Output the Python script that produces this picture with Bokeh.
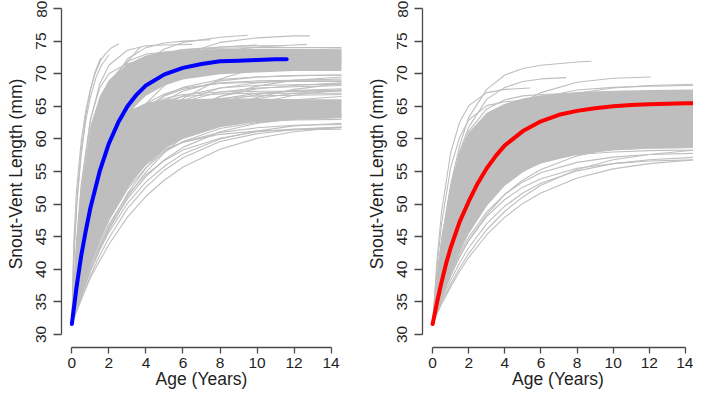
from bokeh.plotting import figure
from bokeh.layouts import row
from bokeh.models import Range1d, FixedTicker
from bokeh.embed import file_html
from bokeh.resources import INLINE

# ---------------- data ----------------
X_TICKS = [0, 2, 4, 6, 8, 10, 12, 14]
Y_TICKS = [30, 35, 40, 45, 50, 55, 60, 65, 70, 75, 80]
X_LABEL = "Age (Years)"
Y_LABEL = "Snout-Vent Length (mm)"

AGES = [0, 0.25, 0.5, 1, 1.5, 2, 3, 4, 5, 6, 8, 10, 12, 14.6]

# ---- left panel (blue mean) ----
BLUE_AGES = [0, 0.25, 0.5, 0.75, 1, 1.5, 2, 2.5, 3, 3.5, 4, 5, 6, 7, 8, 9, 10, 11, 11.6]
BLUE_SVL = [31.6, 37.2, 42.0, 45.9, 49.4, 55.0, 59.3, 62.5, 65.0, 66.8, 68.2, 69.9, 70.9,
            71.5, 71.9, 72.0, 72.1, 72.2, 72.2]

# dense cores of the individual curves (upper and lower cluster)
LEFT_UPPER_HI = [31.6, 44.5, 52.0, 62.0, 66.5, 69.0, 71.5, 72.8, 73.4, 73.6, 73.8, 73.8, 73.8, 73.7]
LEFT_UPPER_LO = [31.6, 37.0, 42.0, 49.5, 55.0, 58.8, 63.8, 66.6, 68.2, 69.1, 69.9, 70.2, 70.4, 70.4]
LEFT_LOWER_HI = [31.6, 38.5, 45.0, 53.0, 58.0, 61.3, 64.2, 65.5, 66.0, 66.1, 66.2, 66.2, 66.1, 66.1]
LEFT_LOWER_LO = [31.6, 34.0, 36.5, 41.0, 44.5, 47.5, 52.5, 56.0, 58.5, 60.0, 61.8, 62.6, 63.0, 63.2]

LEFT_CURVES = [
    [31.6, 44.2, 52.9, 63.0, 67.8, 70.0, 71.6, 71.9, 72.0, 72.0, 72.0, 72.0, 72.0, 72.0],
    [31.6, 41.7, 49.3, 59.5, 65.5, 68.8, 71.9, 73.0, 73.3, 73.4, 73.5, 73.5, 73.5, 73.5],
    [31.6, 39.3, 45.6, 55.0, 61.2, 65.4, 70.1, 72.3, 73.2, 73.7, 73.9, 74.0, 74.0, 74.0],
    [31.6, 40.7, 47.9, 57.8, 63.8, 67.4, 70.9, 72.2, 72.7, 72.9, 73.0, 73.0, 73.0, 73.0],
    [31.6, 35.6, 39.3, 45.6, 50.7, 54.9, 61.2, 65.4, 68.2, 70.1, 72.2, 73.1, 73.6, 73.8],
    [31.6, 39.8, 46.4, 55.9, 61.9, 65.8, 69.8, 71.4, 72.0, 72.3, 72.5, 72.5, 72.5, 72.5],
    [31.6, 34.6, 37.4, 42.3, 46.6, 50.3, 56.2, 60.5, 63.8, 66.2, 69.2, 70.9, 71.9, 72.5],
    [31.6, 33.9, 36.1, 40.0, 43.5, 46.5, 51.6, 55.5, 58.6, 61.0, 64.4, 66.4, 67.6, 68.5],
    [31.6, 35.5, 39.0, 44.8, 49.6, 53.3, 58.7, 62.2, 64.4, 65.7, 67.2, 67.8, 68.0, 68.2],
    [31.6, 37.3, 42.1, 49.6, 54.8, 58.5, 62.9, 65.1, 66.2, 66.8, 67.2, 67.3, 67.3, 67.3],
    [31.6, 36.1, 40.0, 46.6, 51.8, 55.7, 61.3, 64.6, 66.7, 67.9, 69.1, 69.5, 69.7, 69.8],
    [31.6, 34.7, 37.6, 42.6, 46.8, 50.3, 55.8, 59.6, 62.3, 64.3, 66.5, 67.7, 68.2, 68.6],
    [31.6, 34.1, 36.5, 40.8, 44.4, 47.6, 52.6, 56.3, 59.1, 61.2, 63.8, 65.2, 66.0, 66.5],
    [31.6, 35.8, 39.4, 45.4, 50.2, 53.8, 58.9, 62.0, 63.9, 65.0, 66.2, 66.6, 66.7, 66.8],
    [31.6, 35.0, 38.1, 43.5, 47.8, 51.4, 56.8, 60.3, 62.7, 64.3, 66.1, 67.0, 67.3, 67.5],
    [31.6, 34.2, 36.7, 41.0, 44.8, 48.0, 53.2, 57.0, 59.9, 62.0, 64.7, 66.2, 67.0, 67.5],
    [31.6, 36.4, 40.6, 47.4, 52.6, 56.5, 61.8, 64.8, 66.6, 67.6, 68.6, 68.9, 69.0, 69.0],
    [31.6, 34.4, 36.9, 41.5, 45.5, 48.9, 54.4, 58.4, 61.4, 63.7, 66.5, 68.1, 69.0, 69.5],
    [31.6, 37.3, 42.0, 49.4, 54.6, 58.3, 62.7, 64.8, 65.9, 66.5, 66.9, 67.0, 67.0, 67.0],
    [31.6, 33.8, 35.9, 39.8, 43.2, 46.1, 51.1, 54.9, 57.9, 60.3, 63.5, 65.5, 66.7, 67.5],
    [31.6, 35.2, 38.4, 44.0, 48.6, 52.4, 57.9, 61.7, 64.2, 65.9, 67.8, 68.6, 69.0, 69.2],
    [31.6, 36.8, 41.2, 48.4, 53.7, 57.6, 62.7, 65.4, 66.9, 67.8, 68.5, 68.7, 68.8, 68.8],
    [31.6, 35.7, 39.3, 45.5, 50.4, 54.3, 60.0, 63.6, 65.9, 67.3, 68.9, 69.5, 69.7, 69.8],
    [31.6, 34.6, 37.4, 42.3, 46.4, 49.9, 55.2, 58.9, 61.6, 63.5, 65.7, 66.8, 67.4, 67.7],
    [31.6, 35.9, 39.7, 46.1, 51.0, 54.9, 60.2, 63.4, 65.4, 66.6, 67.8, 68.2, 68.3, 68.4],
    [31.6, 33.5, 35.4, 39.0, 42.1, 44.8, 49.3, 52.6, 55.2, 57.1, 59.6, 60.8, 61.4, 61.8],
    [31.6, 33.8, 35.9, 39.7, 42.9, 45.7, 50.1, 53.4, 55.8, 57.7, 60.0, 61.2, 62.0, 62.4],
    [31.6, 34.5, 37.2, 41.7, 45.4, 48.5, 53.1, 56.1, 58.2, 59.5, 61.0, 61.7, 62.1, 62.2],
    [31.6, 34.3, 36.7, 41.0, 44.6, 47.6, 52.3, 55.6, 58.0, 59.6, 61.6, 62.5, 63.0, 63.3],
    [31.6, 34.8, 37.6, 42.4, 46.3, 49.3, 53.8, 56.6, 58.4, 59.5, 60.7, 61.2, 61.4, 61.5],
    [31.6, 33.9, 36.1, 40.0, 43.3, 46.2, 50.8, 54.2, 56.8, 58.7, 61.1, 62.4, 63.1, 63.6],
    [31.6, 34.2, 36.5, 40.6, 44.0, 46.9, 51.4, 54.5, 56.7, 58.3, 60.1, 61.1, 61.5, 61.8],
    [31.6, 34.9, 37.9, 43.0, 47.0, 50.2, 54.9, 57.8, 59.7, 60.9, 62.2, 62.7, 62.9, 63.0],
    [31.6, 33.5, 35.3, 38.7, 41.3, 43.8, 48.0, 51.2, 53.7, 55.7, 58.4, 60.1, 61.1, 61.8],
]

# curves that stop before the last age
LEFT_SHORT_AGES = [
    [0, 0.1, 0.25, 0.5, 0.75, 1, 1.25, 1.55, 1.8, 2.1, 2.54],
    [0, 0.15, 0.3, 0.5, 0.75, 1, 1.25, 1.55],
    [0, 0.1, 0.25, 0.5, 0.75, 1, 1.3, 1.6, 2.0],
    [0, 0.25, 0.5, 1, 1.5, 2, 3, 3.7],
    [0, 0.25, 0.5, 1, 1.5, 2, 3, 4, 5, 6.5],
    [0, 0.25, 0.5, 1, 1.5, 2, 3, 4, 5, 6, 8, 9.5],
    [0, 0.25, 0.5, 1, 1.5, 2, 3, 4, 5, 6, 8, 10, 12, 12.85],
    [0, 0.25, 0.5, 1, 1.5, 2, 3, 4, 5, 6, 8, 10],
    [0, 0.25, 0.5, 1, 1.5, 2, 3, 4, 5, 6, 8, 10, 11.5],
    [0, 0.25, 0.5, 1, 1.5, 2, 3, 4, 5, 6, 7.5],
    [0, 0.25, 0.5, 1, 1.5, 2, 3, 4, 5, 6, 8, 10, 12, 12.7],
]
LEFT_SHORT_SVL = [
    [31.6, 44.0, 52.0, 59.5, 64.3, 67.6, 70.0, 72.0, 73.0, 73.9, 74.6],
    [31.6, 44.0, 51.5, 58.0, 63.6, 67.5, 70.2, 72.4],
    [31.6, 42.0, 49.5, 57.5, 62.8, 66.4, 69.4, 71.3, 72.9],
    [31.6, 39.0, 45.3, 54.6, 61.3, 66.1, 71.8, 74.1],
    [31.6, 43.5, 52.1, 62.8, 68.4, 71.3, 73.6, 74.3, 74.4, 74.5],
    [31.6, 37.8, 43.1, 51.6, 57.9, 62.6, 68.7, 72.0, 73.8, 74.8, 75.6, 75.9],
    [31.6, 36.3, 40.5, 47.7, 53.4, 57.9, 64.5, 68.7, 71.3, 73.0, 74.8, 75.5, 75.8, 75.8],
    [31.6, 37.1, 41.9, 49.8, 55.8, 60.3, 66.3, 69.8, 71.8, 73.0, 74.1, 74.4],
    [31.6, 38.5, 44.2, 53.1, 59.4, 63.8, 69.1, 71.7, 73.0, 73.7, 74.1, 74.3, 74.3],
    [31.6, 40.4, 47.4, 57.5, 63.9, 68.0, 72.3, 74.0, 74.7, 75.0, 75.2],
    [31.6, 36.2, 40.2, 47.2, 52.7, 57.1, 63.5, 67.5, 70.1, 71.7, 73.4, 74.1, 74.4, 74.5],
]

# ---- right panel (red mean) ----
RED_AGES = [0, 0.25, 0.5, 0.75, 1, 1.5, 2, 2.5, 3, 3.5, 4, 5, 6, 7, 8, 9, 10, 11, 12, 13, 14, 14.6]
RED_SVL = [31.6, 35.0, 38.1, 40.9, 43.3, 47.3, 50.4, 53.2, 55.5, 57.4, 59.0, 61.2, 62.7, 63.7,
           64.3, 64.7, 65.0, 65.2, 65.3, 65.4, 65.45, 65.5]

RIGHT_CORE_HI = [31.6, 39.5, 45.0, 53.0, 58.0, 61.0, 64.0, 65.4, 66.2, 66.7, 67.2, 67.4, 67.5, 67.6]
RIGHT_CORE_LO = [31.6, 33.5, 35.6, 39.3, 42.6, 45.4, 49.7, 52.8, 54.9, 56.3, 57.7, 58.3, 58.5, 58.6]

RIGHT_CURVES = [
    [31.6, 40.5, 47.1, 55.6, 60.3, 62.9, 65.1, 65.7, 65.9, 66.0, 66.0, 66.0, 66.0, 66.0],
    [31.6, 38.7, 44.4, 52.6, 57.8, 61.2, 64.6, 66.0, 66.6, 66.8, 67.0, 67.0, 67.0, 67.0],
    [31.6, 35.1, 38.3, 43.8, 48.2, 51.9, 57.4, 61.0, 63.5, 65.1, 67.0, 67.8, 68.2, 68.4],
    [31.6, 35.9, 39.7, 46.0, 50.9, 54.7, 60.0, 63.3, 65.2, 66.4, 67.5, 67.9, 68.1, 68.2],
    [31.6, 33.2, 34.7, 37.3, 39.7, 41.8, 45.3, 48.0, 50.1, 51.7, 54.0, 55.4, 56.2, 56.8],
    [31.6, 33.5, 35.2, 38.3, 41.0, 43.3, 47.0, 49.7, 51.7, 53.2, 55.1, 56.2, 56.8, 57.2],
    [31.6, 33.8, 35.9, 39.4, 42.4, 44.9, 48.8, 51.5, 53.4, 54.8, 56.4, 57.2, 57.6, 57.8],
    [31.6, 34.4, 37.0, 41.3, 44.7, 47.4, 51.4, 53.9, 55.5, 56.5, 57.6, 58.0, 58.2, 58.3],
    [31.6, 33.3, 34.8, 37.7, 40.2, 42.4, 46.1, 48.9, 51.1, 52.9, 55.3, 56.8, 57.6, 58.3],
    [31.6, 33.6, 35.5, 39.0, 41.9, 44.4, 48.4, 51.5, 53.7, 55.3, 57.4, 58.6, 59.2, 59.6],
    [31.6, 34.2, 36.5, 40.6, 43.9, 46.6, 50.6, 53.3, 55.1, 56.3, 57.7, 58.3, 58.6, 58.7],
    [31.6, 33.7, 35.7, 39.1, 42.0, 44.4, 48.1, 50.7, 52.6, 53.9, 55.5, 56.2, 56.6, 56.8],
]

RIGHT_SHORT_AGES = [
    [0, 0.25, 0.5, 1, 1.5, 2, 3, 4, 5, 6, 8, 8.8],
    [0, 0.25, 0.5, 1, 1.5, 2, 3, 4, 5.4],
    [0, 0.25, 0.5, 1, 1.5, 2, 3, 4, 5, 6, 7.4],
    [0, 0.25, 0.5, 1, 1.5, 2, 3, 4, 5, 6, 8, 10, 12.1],
]
RIGHT_SHORT_SVL = [
    [31.6, 38.5, 44.5, 53.0, 59.0, 63.3, 67.6, 69.8, 70.8, 71.3, 71.8, 71.9],
    [31.6, 41.6, 48.9, 57.9, 62.6, 65.1, 67.1, 67.6, 67.8],
    [31.6, 38.5, 44.1, 52.5, 58.1, 61.8, 66.1, 67.9, 68.8, 69.2, 69.4],
    [31.6, 35.6, 39.3, 45.4, 50.3, 54.2, 59.8, 63.4, 65.7, 67.1, 68.7, 69.3, 69.5],
]

# ---------------- styling ----------------
GRAY = "#bebebe"
TEXT = "#1f1f1f"
AXIS = "#4a4a4a"
FONT = "Liberation Sans"
HEIGHT = 391
BORDER_LEFT = 61
BORDER_BOTTOM = 43


def make_panel(width, x_end, border_right):
    p = figure(width=width, height=HEIGHT,
               x_range=Range1d(-0.56, x_end), y_range=Range1d(28, 81.23),
               output_backend="svg", toolbar_location=None,
               min_border_left=BORDER_LEFT, min_border_right=border_right,
               min_border_top=0, min_border_bottom=BORDER_BOTTOM)
    p.outline_line_color = None
    p.grid.visible = False
    p.background_fill_color = "white"
    p.border_fill_color = "white"

    p.xaxis.bounds = (0, 14)
    p.yaxis.bounds = (30, 80)
    p.xaxis.ticker = FixedTicker(ticks=X_TICKS)
    p.yaxis.ticker = FixedTicker(ticks=Y_TICKS)
    p.xaxis.axis_label = X_LABEL
    p.yaxis.axis_label = Y_LABEL
    for ax in (p.xaxis, p.yaxis):
        ax.axis_line_color = AXIS
        ax.axis_line_width = 1.3
        ax.major_tick_line_color = AXIS
        ax.major_tick_line_width = 1.3
        ax.major_tick_in = 0
        ax.minor_tick_line_color = None
        ax.major_label_text_font = FONT
        ax.major_label_text_font_size = "15.5px"
        ax.major_label_text_color = TEXT
        ax.axis_label_text_font = FONT
        ax.axis_label_text_font_size = "17.5px"
        ax.axis_label_text_font_style = "normal"
        ax.axis_label_text_color = TEXT
    p.xaxis.major_tick_out = 6
    p.yaxis.major_tick_out = 8
    p.xaxis.major_label_standoff = 4
    p.xaxis.axis_label_standoff = -2
    p.yaxis.major_label_standoff = 7
    p.yaxis.axis_label_standoff = 8
    p.yaxis.major_label_orientation = "vertical"
    return p


def draw_bands(p, bands):
    for lo, hi in bands:
        p.varea(x=AGES, y1=lo, y2=hi, fill_color=GRAY, fill_alpha=1.0)


def draw_curves(p, curves, short_ages, short_svl):
    xs = [AGES for _ in curves] + list(short_ages)
    ys = list(curves) + list(short_svl)
    p.multi_line(xs=xs, ys=ys, line_color=GRAY, line_width=1.1)


LEFT_W = 361
RIGHT_W = 332
left = make_panel(LEFT_W, 14.56, 20)
draw_bands(left, [(LEFT_UPPER_LO, LEFT_UPPER_HI), (LEFT_LOWER_LO, LEFT_LOWER_HI)])
draw_curves(left, LEFT_CURVES, LEFT_SHORT_AGES, LEFT_SHORT_SVL)
left.line(BLUE_AGES, BLUE_SVL, line_color="#0000ff", line_width=4, line_cap="round",
          line_join="round")

right = make_panel(RIGHT_W, 14.45, 0)
draw_bands(right, [(RIGHT_CORE_LO, RIGHT_CORE_HI)])
draw_curves(right, RIGHT_CURVES, RIGHT_SHORT_AGES, RIGHT_SHORT_SVL)
right.line(RED_AGES, RED_SVL, line_color="#ff0000", line_width=4, line_cap="round",
           line_join="round")

layout = row(left, right, spacing=0)
open("out.html", "w").write(file_html(layout, INLINE))
